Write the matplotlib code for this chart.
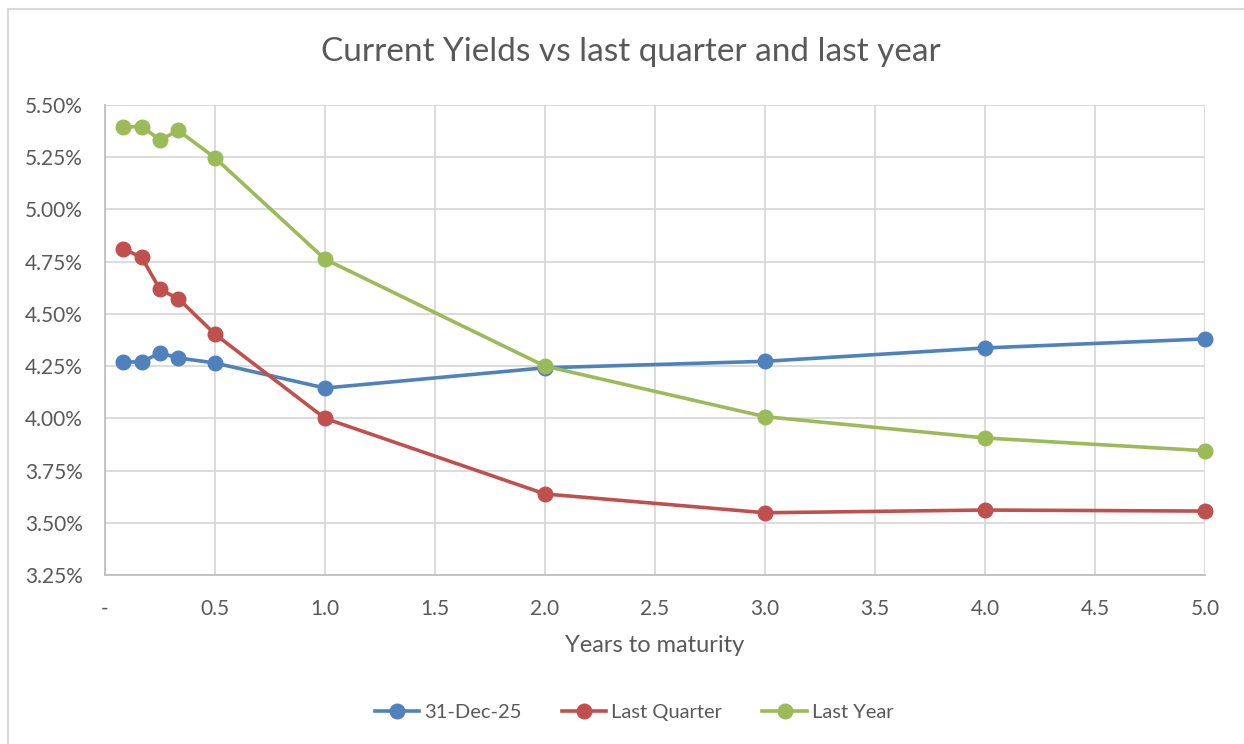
import matplotlib.pyplot as plt
from matplotlib.lines import Line2D
from matplotlib.ticker import FuncFormatter

plt.rcParams['font.family'] = ['Lato', 'DejaVu Sans']

years = [1/12, 2/12, 3/12, 4/12, 0.5, 1.0, 2.0, 3.0, 4.0, 5.0]
current = [4.27, 4.27, 4.313, 4.289, 4.265, 4.145, 4.242, 4.273, 4.337, 4.38]
last_quarter = [4.812, 4.77, 4.617, 4.573, 4.403, 4.0, 3.638, 3.548, 3.561, 3.556]
last_year = [5.395, 5.397, 5.333, 5.378, 5.247, 4.762, 4.25, 4.008, 3.906, 3.845]
labels = ['31-Dec-25', 'Last Quarter', 'Last Year']
colors = ['#4F81BD', '#C0504D', '#9BBB59']

txt = '#595959'
grid = '#D9D9D9'

figure = plt.figure(figsize=(12.44, 7.44), dpi=100)
axes = figure.add_axes([105/1244, 1-575/744, 1100/1244, 470/744])

for series, lab, col in zip([current, last_quarter, last_year], labels, colors):
    axes.plot(years, series, color=col, linewidth=2.6, marker='o',
              markersize=10.5, label=lab, solid_capstyle='round', zorder=3,
              clip_on=False)

axes.set_xlim(0, 5)
axes.set_ylim(3.25, 5.5)
axes.set_xticks([i * 0.5 for i in range(11)])
axes.set_yticks([3.25 + i * 0.25 for i in range(10)])
axes.xaxis.set_major_formatter(FuncFormatter(lambda v, p: '-' if v == 0 else f'{v:.1f}'))
axes.yaxis.set_major_formatter(FuncFormatter(lambda v, p: f'{v:.2f}%'))
axes.grid(True, color=grid, linewidth=1.3)
axes.set_axisbelow(True)
for s in ['top', 'right']:
    axes.spines[s].set_visible(False)
for s in ['left', 'bottom']:
    axes.spines[s].set_color('#BFBFBF')
    axes.spines[s].set_linewidth(1.3)
axes.tick_params(length=0, labelsize=15, colors=txt, pad=16)
axes.tick_params(axis='x', pad=17)
axes.set_xlabel('Years to maturity', fontsize=17, color=txt, labelpad=12)

figure.text(631/1244, 1-52/744, 'Current Yields vs last quarter and last year',
            ha='center', va='center', fontsize=24, color=txt)

handles = [Line2D([0], [0], color=c, linewidth=2.6, marker='o', markersize=10.5)
           for c in colors]
figure.legend(handles, labels, loc='center', bbox_to_anchor=(634/1244, 1-712/744),
              ncol=3, frameon=False, fontsize=14.5, labelcolor=txt,
              handlelength=2.2, columnspacing=2.0, handletextpad=0.25)

# chart area border (cropped on right and bottom)
figure.add_artist(Line2D([8/1244, 8/1244], [0, 1-9/744], color='#D9D9D9',
                         linewidth=1.5, transform=figure.transFigure))
figure.add_artist(Line2D([8/1244, 1], [1-9/744, 1-9/744], color='#D9D9D9',
                         linewidth=1.5, transform=figure.transFigure))

figure.savefig('out.png', dpi=100)
